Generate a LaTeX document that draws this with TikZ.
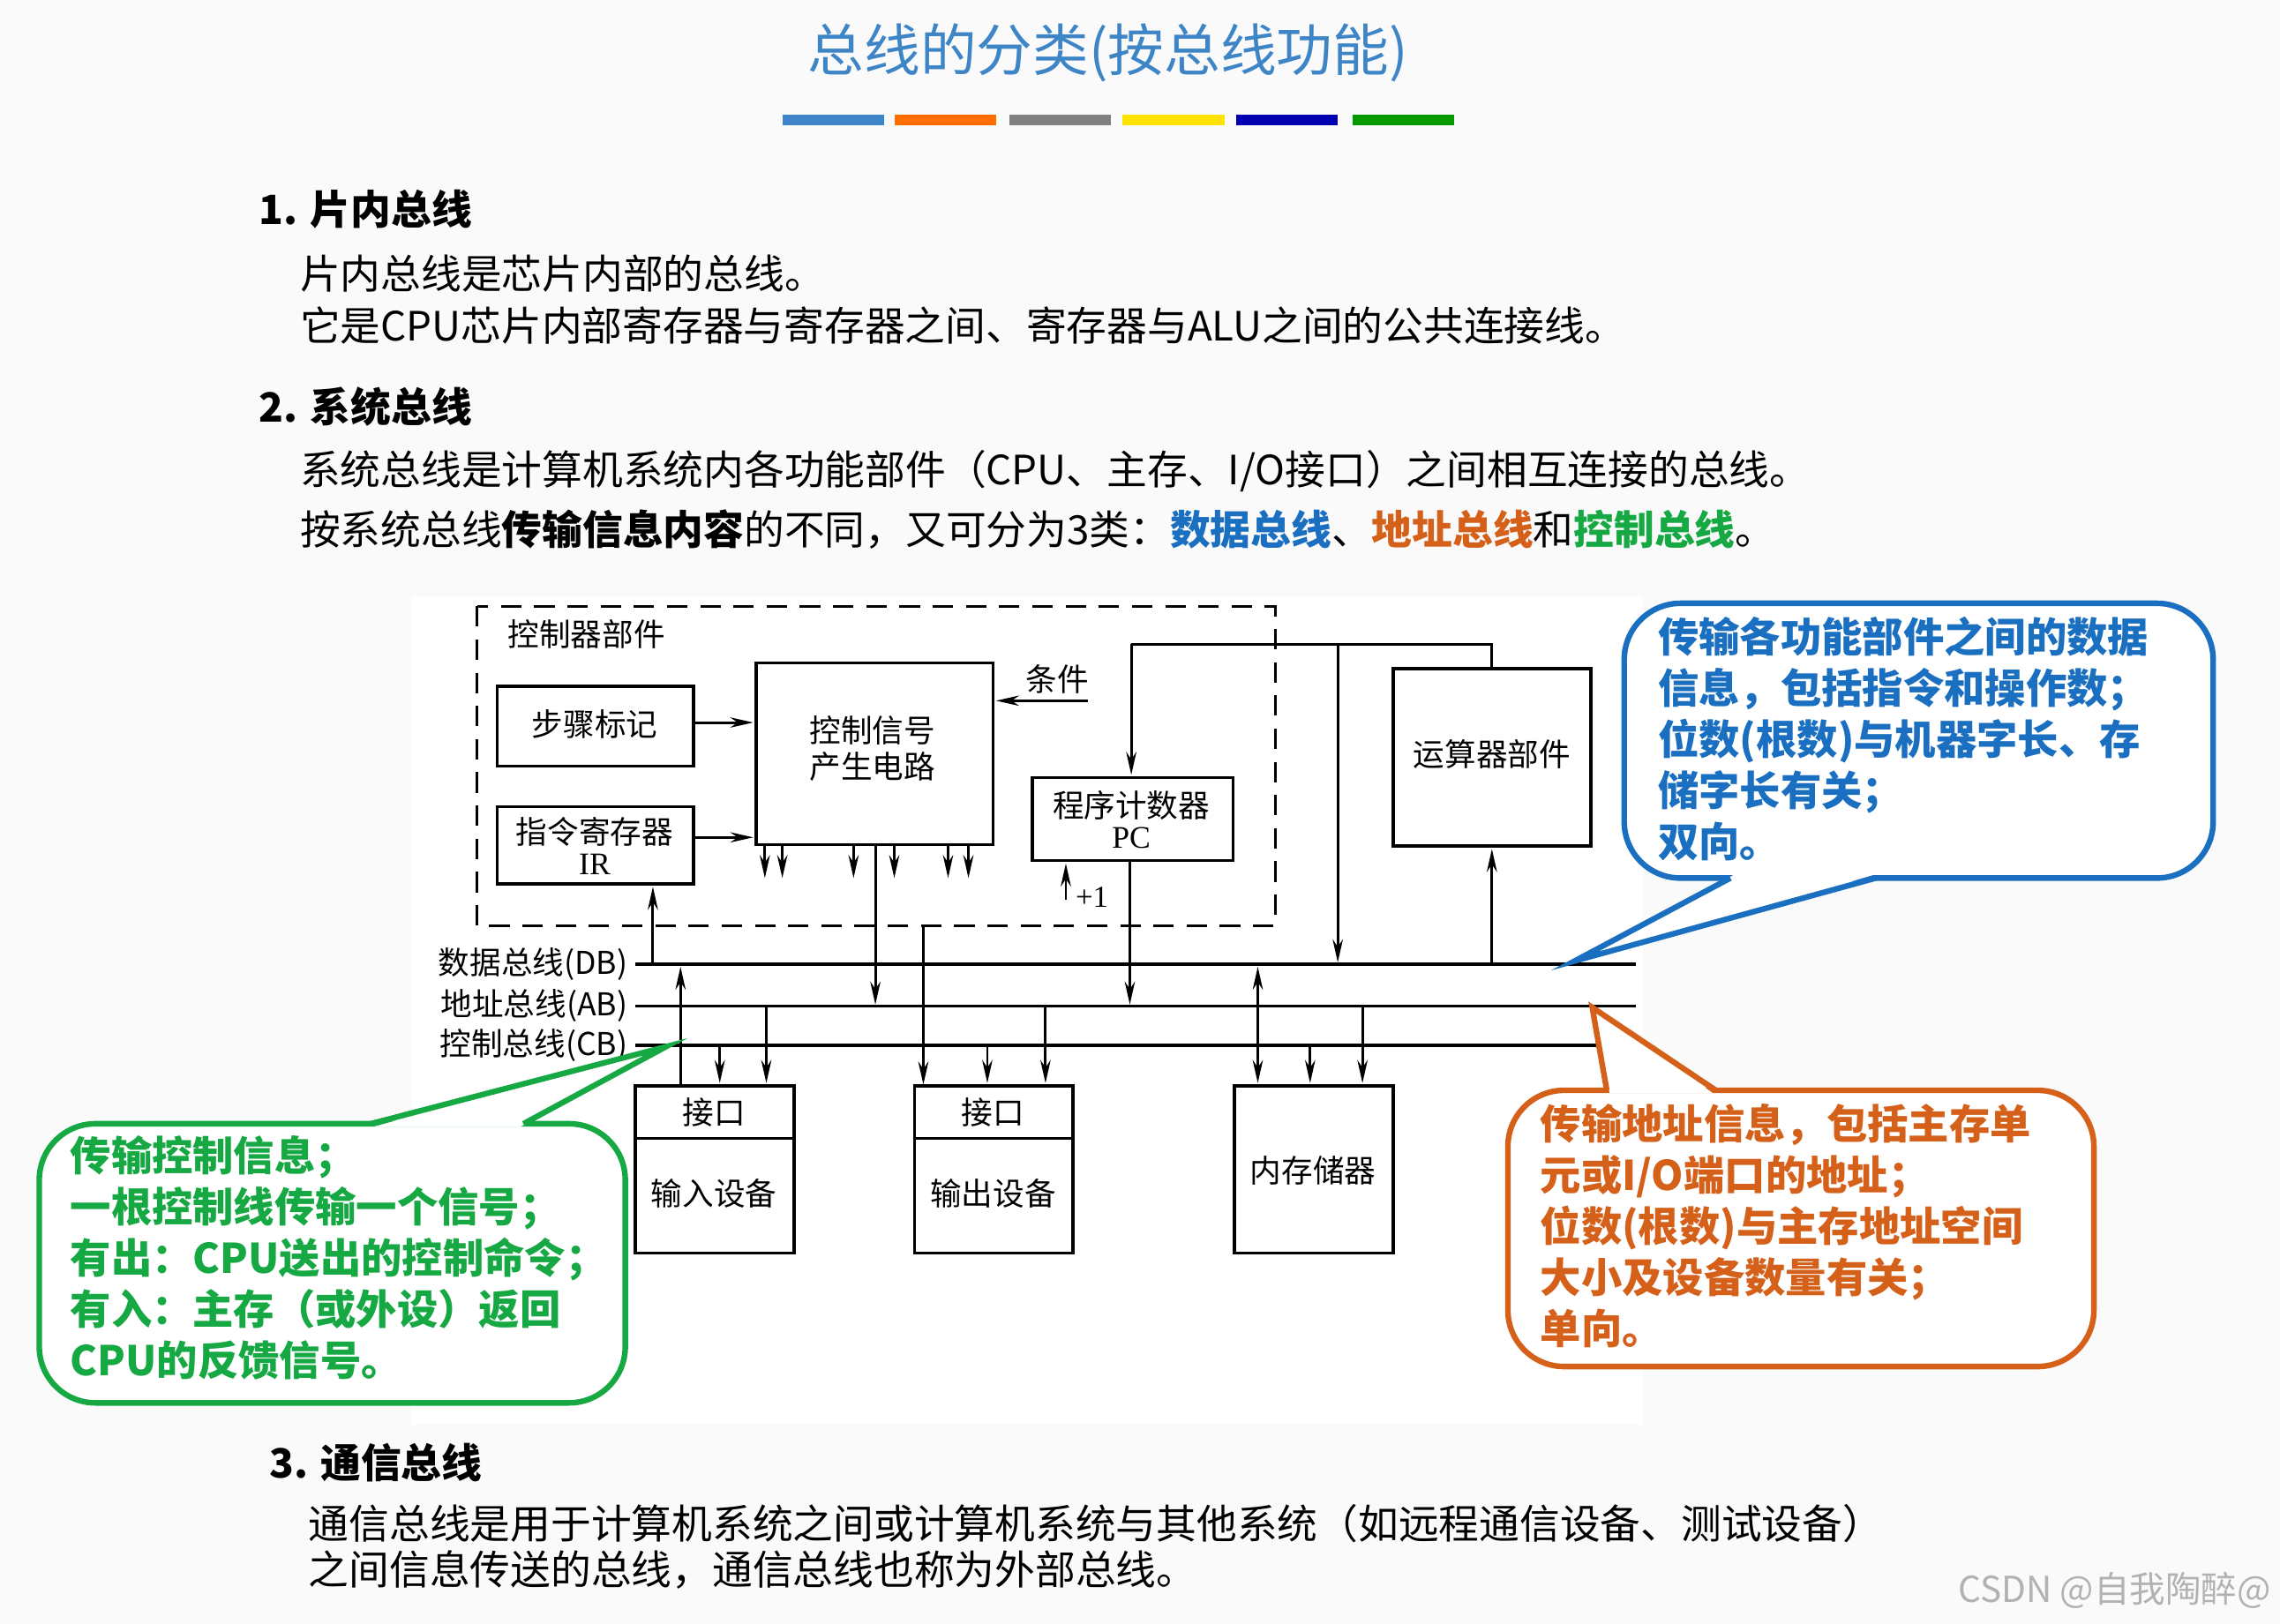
\documentclass[tikz,border=0pt]{standalone}
\usepackage{fontspec}
\setmainfont{Liberation Serif}
\newfontfamily\cjk{Noto Sans CJK SC}
\usetikzlibrary{arrows.meta}
\definecolor{tblue}{HTML}{3D85C6}
\definecolor{cblue}{HTML}{1A6FC0}
\definecolor{corange}{HTML}{D4601A}
\definecolor{cgreen}{HTML}{16A843}
\tikzset{
 x=0.02cm,y=-0.02cm,
 bx/.style={draw,line width=1.2pt},
 ln/.style={line width=1pt},
 ar/.style={line width=1pt,-{Stealth[length=9pt,width=4pt]}},
 body/.style={anchor=west,font=\cjk\fontsize{15.8}{18}\selectfont,inner sep=0},
 lab/.style={font=\cjk\fontsize{12.3}{14}\selectfont,inner sep=0},
 call/.style={anchor=north west,align=left,font=\cjk\fontsize{16}{20}\selectfont\bfseries,inner sep=0},
 cbox/.style={line width=2.2pt,fill=white,rounded corners=22pt},
}
\begin{document}
\begin{tikzpicture}
\fill[gray!4] (0,0) rectangle (1568,1117);
\useasboundingbox (0,0) rectangle (1568,1117);
\fill[white] (283,410) rectangle (1130,980);
% title
\node[font=\cjk\fontsize{22}{26}\selectfont,text=tblue] (title) at (762,36) {总线的分类(按总线功能)};
\foreach \a/\c in {538/tblue,615/orange!85!red,694/gray,772/yellow!85!orange,850/blue!70!black,930/green!60!black}
  \fill[\c] (\a,79) rectangle ++(70,7);
% section 1
\node[body,font=\cjk\fontsize{15.8}{18}\selectfont\bfseries] (h1) at (178,144) {1. 片内总线};
\node[body] (t11) at (206,188) {片内总线是芯片内部的总线。};
\node[body] (t12) at (206,224) {它是CPU芯片内部寄存器与寄存器之间、寄存器与ALU之间的公共连接线。};
\node[body,font=\cjk\fontsize{15.8}{18}\selectfont\bfseries] (h2) at (178,280) {2. 系统总线};
\node[body] (t21) at (206,324) {系统总线是计算机系统内各功能部件（CPU、主存、I/O接口）之间相互连接的总线。};
\node[body] (t22) at (206,364) {按系统总线\textbf{传输信息内容}的不同，又可分为3类：\textcolor{cblue}{\textbf{数据总线}}、\textcolor{corange}{\textbf{地址总线}}和\textcolor{cgreen}{\textbf{控制总线}}。};
% diagram
\draw[ln,dashed,dash pattern=on 8pt off 5pt] (328,417) rectangle (877,637);
\node[lab,anchor=west] (kz) at (349,436) {控制器部件};
\draw[bx] (342,472) rectangle (477,527); \node[lab] (bz) at (409,498) {步骤标记};
\draw[bx] (342,555) rectangle (477,608); \node[lab,align=center] (ir) at (409,582) {指令寄存器\\[-2pt]{\rmfamily IR}};
\draw[bx] (520,456) rectangle (683,581); \node[lab,align=center] (cs) at (600,515) {控制信号\\产生电路};
\draw[bx] (710,535) rectangle (848,592); \node[lab,align=center] (pc) at (778,564) {程序计数器\\[-2pt]{\rmfamily PC}};
\draw[bx] (958,460) rectangle (1094,582); \node[lab] (alu) at (1026,519) {运算器部件};
\node[lab] (tj) at (727,467) {条件};
\draw[ln] (700,482) -- (748,482);
\draw[ar] (700,482) -- (685,482);
\draw[ar] (477,497) -- (518,497);
\draw[ar] (477,576) -- (518,576);
\foreach \x in {526,538,587,615,652,666} \draw[ar] (\x,581) -- (\x,604);
\draw[ar] (602,581) -- (602,691);
\draw[ar] (635,637) -- (635,746);
\draw[ar] (777,592) -- (777,691);
\draw[ar] (733,619) -- (733,594);
\node[lab,font=\rmfamily\fontsize{12}{14}\selectfont] (p1) at (751,617) {+1};
\draw[ln] (1026,460) -- (1026,443) -- (778,443);
\draw[ar] (778,443) -- (778,533);
\draw[ar] (920,443) -- (920,662);
\draw[ar] (1026,663) -- (1026,584);
\draw[ar] (449,663) -- (449,610);
% buses
\foreach \y/\t in {663/数据总线(DB),692/地址总线(AB),719/控制总线(CB)}{
  \draw[line width=1.3pt] (437,\y) -- (1125,\y);
  \node[lab,anchor=east] at (432,\y) {\t};
}
% devices
\draw[bx] (437,747) rectangle (546,862); \draw[bx] (437,783) -- (546,783);
\node[lab] (j1) at (491,765) {接口}; \node[lab] (in) at (491,821) {输入设备};
\draw[bx] (629,747) rectangle (738,862); \draw[bx] (629,783) -- (738,783);
\node[lab] (j2) at (683,765) {接口}; \node[lab] (out) at (683,821) {输出设备};
\draw[bx] (849,747) rectangle (958,862); \node[lab] (mem) at (903,805) {内存储器};
\draw[ar] (468,747) -- (468,665);
\draw[ar] (495,719) -- (495,745);
\draw[ar] (527,692) -- (527,745);
\draw[ar] (679,719) -- (679,745);
\draw[ar] (719,692) -- (719,745);
\draw[line width=1pt,{Stealth[length=9pt,width=4pt]}-{Stealth[length=9pt,width=4pt]}] (865,665) -- (865,745);
\draw[ar] (901,719) -- (901,745);
\draw[ar] (937,692) -- (937,745);
% callouts
\draw[cblue,cbox] (1117,415) rectangle (1522,604);
\fill[white] (1192,602) -- (1083,661) -- (1288,602) -- cycle;
\draw[cblue,line width=2.2pt,line join=miter] (1190,604) -- (1083,661) -- (1290,604);
\node[call,text=cblue] (cb) at (1140,424) {传输各功能部件之间的数据\\信息，包括指令和操作数；\\位数(根数)与机器字长、存\\储字长有关；\\双向。};
\draw[corange,cbox] (1037,750) rectangle (1440,940);
\fill[white] (1107,752) -- (1095,693) -- (1178,752) -- cycle;
\draw[corange,line width=2.2pt] (1105,750) -- (1095,693) -- (1180,750);
\node[call,text=corange] (co) at (1059,759) {传输地址信息，包括主存单\\元或I/O端口的地址；\\位数(根数)与主存地址空间\\大小及设备数量有关；\\单向。};
\draw[cgreen,cbox] (27,773) rectangle (430,965);
\fill[white] (257,775) -- (458,720) -- (358,775) -- cycle;
\draw[cgreen,line width=2.2pt] (255,773) -- (458,720) -- (360,773);
\node[call,text=cgreen] (cg) at (48,781) {传输控制信息；\\一根控制线传输一个信号；\\有出：CPU送出的控制命令；\\有入：主存（或外设）返回\\CPU的反馈信号。};
% section 3
\node[body,font=\cjk\fontsize{15.8}{18}\selectfont\bfseries] (h3) at (185,1006) {3. 通信总线};
\node[body] (t31) at (212,1048) {通信总线是用于计算机系统之间或计算机系统与其他系统（如远程通信设备、测试设备）};
\node[body] (t32) at (212,1080) {之间信息传送的总线，通信总线也称为外部总线。};
\node[anchor=east,font=\cjk\fontsize{14}{16}\selectfont,text=gray!60,inner sep=0] (csdn) at (1562,1094) {CSDN @自我陶醉@};
\end{tikzpicture}
\end{document}
